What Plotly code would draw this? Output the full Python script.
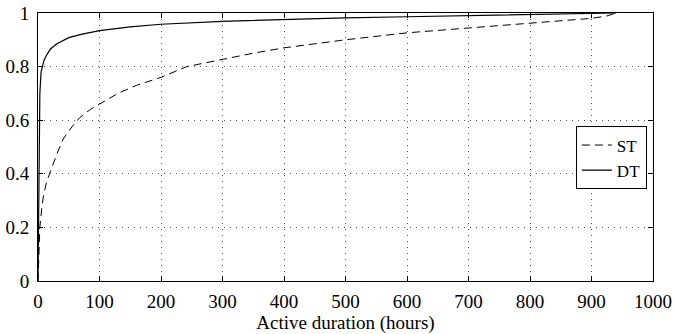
import plotly.graph_objects as go

st_x = [0, 1, 3, 6, 9, 14, 20, 30, 41, 55, 68, 85, 100, 130, 160, 200, 242, 300, 350, 400, 500, 600, 700, 800, 900, 925, 940]
st_y = [0, 0.08, 0.2, 0.27, 0.32, 0.37, 0.41, 0.47, 0.53, 0.575, 0.61, 0.64, 0.66, 0.7, 0.73, 0.76, 0.8, 0.827, 0.85, 0.87, 0.9, 0.926, 0.944, 0.961, 0.98, 0.989, 1.0]

dt_x = [0, 1, 2, 3, 5, 7, 10, 14, 20, 30, 41, 50, 70, 85, 100, 150, 200, 300, 400, 500, 600, 700, 800, 900, 940]
dt_y = [0, 0.3, 0.55, 0.7, 0.78, 0.8, 0.825, 0.843, 0.865, 0.884, 0.897, 0.908, 0.92, 0.926, 0.934, 0.948, 0.958, 0.969, 0.976, 0.982, 0.986, 0.99, 0.993, 0.996, 1.0]

x_ticks = [0, 100, 200, 300, 400, 500, 600, 700, 800, 900, 1000]
y_ticks = [0, 0.2, 0.4, 0.6, 0.8, 1]
y_labels = ["0", "0.2", "0.4", "0.6", "0.8", "1"]

font = "Liberation Serif, Times New Roman, serif"
fs = 19

fig = go.Figure()
fig.add_trace(go.Scatter(x=st_x, y=st_y, mode="lines", name="ST",
                         line=dict(color="black", width=1, dash="8px,5px")))
fig.add_trace(go.Scatter(x=dt_x, y=dt_y, mode="lines", name="DT",
                         line=dict(color="black", width=1.2)))

axis_common = dict(showline=True, linecolor="black", linewidth=1, mirror="ticks",
                   ticks="inside", ticklen=5, tickcolor="black", automargin=False,
                   showgrid=True, gridcolor="#555555", griddash="1px,5px", gridwidth=1,
                   zeroline=False, tickfont=dict(family=font, size=fs, color="black"))

fig.update_xaxes(range=[0, 1000], tickvals=x_ticks, ticklabelstandoff=3,
                 title=dict(text="Active duration (hours)", font=dict(family=font, size=19, color="black"), standoff=0),
                 **axis_common)
fig.update_yaxes(range=[0, 1], tickvals=y_ticks, ticktext=y_labels, ticklabelstandoff=4, **axis_common)

fig.update_layout(width=675, height=334,
                  margin=dict(l=38, r=22, t=13, b=53),
                  paper_bgcolor="white", plot_bgcolor="white",
                  font=dict(family=font, size=fs, color="black"),
                  legend=dict(x=0.99, y=0.459, xanchor="right", yanchor="middle",
                              bordercolor="black", borderwidth=1, bgcolor="white",
                              font=dict(family=font, size=17, color="black"),
                              itemwidth=30, tracegroupgap=0),
                  showlegend=True)

fig.write_html("out.html", post_script="document.body.style.margin='0';",
               config={"displayModeBar": False})
